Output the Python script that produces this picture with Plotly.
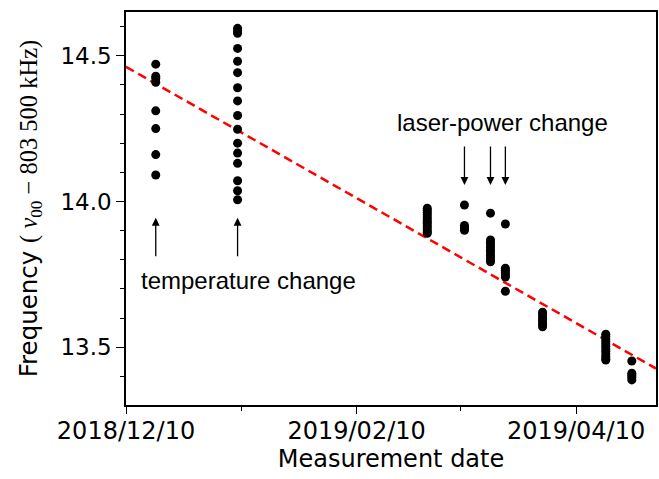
import plotly.graph_objects as go

# ---- data ----
session_dates = ["2018-12-18", "2019-01-09", "2019-03-01", "2019-03-11", "2019-03-18",
                 "2019-03-22", "2019-04-01", "2019-04-18", "2019-04-25"]

freq_1218 = [14.471, 14.430, 14.423, 14.409, 14.311, 14.250, 14.161, 14.091]
freq_0109 = [14.594, 14.586, 14.577, 14.525, 14.481, 14.442, 14.390, 14.345, 14.295,
             14.248, 14.200, 14.166, 14.131, 14.071, 14.037, 14.006]
freq_0301 = [13.977, 13.970, 13.962, 13.955, 13.947, 13.940, 13.932, 13.925, 13.917,
             13.910, 13.902, 13.895, 13.891]
freq_0311 = [13.988, 13.918, 13.912, 13.906, 13.901]
freq_0318 = [13.960, 13.868, 13.860, 13.851, 13.842, 13.833, 13.824, 13.815, 13.806,
             13.798, 13.793]
freq_0322 = [13.923, 13.771, 13.764, 13.756, 13.748, 13.741, 13.692]
freq_0401 = [13.620, 13.612, 13.603, 13.595, 13.587, 13.579, 13.570]
freq_0418 = [13.545, 13.537, 13.528, 13.520, 13.511, 13.503, 13.494, 13.486, 13.477,
             13.468, 13.460, 13.456]
freq_0425 = [13.453, 13.411, 13.404, 13.397, 13.388]

session_values = [freq_1218, freq_0109, freq_0301, freq_0311, freq_0318,
                  freq_0322, freq_0401, freq_0418, freq_0425]

fit_dates = ["2018-12-10", "2019-05-01 12:00"]
fit_values = [14.462, 13.427]

x_range = ["2018-12-10", "2019-05-01 12:00"]
y_range = [13.302, 14.65]

temperature_dates = ["2018-12-18", "2019-01-09"]
laser_dates = ["2019-03-11", "2019-03-18", "2019-03-22"]

# ---- build ----
xs, ys = [], []
for d, vals in zip(session_dates, session_values):
    xs.extend([d] * len(vals))
    ys.extend(vals)

fig = go.Figure()
fig.add_trace(go.Scatter(
    x=fit_dates, y=fit_values, mode="lines",
    line=dict(color="#ff0000", width=2.5, dash="9px,5px"),
    hoverinfo="skip", showlegend=False))
fig.add_trace(go.Scatter(
    x=xs, y=ys, mode="markers",
    marker=dict(color="black", size=9, line=dict(width=0)),
    showlegend=False))

annotations = []
for d in temperature_dates:
    annotations.append(dict(x=d, y=13.944, ax=d, ay=13.807, xref="x", yref="y",
                            axref="x", ayref="y", text="", showarrow=True,
                            arrowhead=2, arrowsize=1.2, arrowwidth=1.3,
                            arrowcolor="black"))
for d in laser_dates:
    annotations.append(dict(x=d, y=14.057, ax=d, ay=14.194, xref="x", yref="y",
                            axref="x", ayref="y", text="", showarrow=True,
                            arrowhead=2, arrowsize=1.2, arrowwidth=1.3,
                            arrowcolor="black"))
annotations.append(dict(x=0.231, y=0.318, xref="paper", yref="paper",
                        xanchor="center", yanchor="middle",
                        text="temperature change", showarrow=False,
                        font=dict(family="Liberation Sans, Arial", size=24, color="black")))
annotations.append(dict(x=0.710, y=0.720, xref="paper", yref="paper",
                        xanchor="center", yanchor="middle",
                        text="laser-power change", showarrow=False,
                        font=dict(family="Liberation Sans, Arial", size=24, color="black")))

ytitle = ('Frequency <span style="font-family:\'Liberation Serif\', \'Times New Roman\', serif">'
          '( <i>ν</i><sub>00</sub> − 803 500 kHz)</span>' + '\u00a0' * 5)

fig.update_layout(
    width=659, height=479,
    margin=dict(l=126, r=3, t=12, b=74),
    paper_bgcolor="white", plot_bgcolor="white",
    font=dict(family="DejaVu Sans", size=22, color="black"),
    annotations=annotations,
    xaxis=dict(
        type="date", range=x_range,
        tick0="2018-12-10", dtick="M2", tickformat="%Y/%m/%d",
        ticks="outside", ticklen=7, tickwidth=1.2, tickcolor="black",
        minor=dict(dtick="M1", tick0="2018-12-10", ticks="outside", ticklen=4,
                   tickwidth=1.2, tickcolor="black", showgrid=False),
        showline=True, linecolor="black", linewidth=1.5, mirror=True,
        showgrid=False, zeroline=False,
        tickfont=dict(size=24), ticklabelstandoff=-4,
        title=dict(text="Measurement date", font=dict(size=24), standoff=4),
        automargin=False,
    ),
    yaxis=dict(
        range=y_range, tick0=13.5, dtick=0.5, tickformat=".1f",
        ticks="outside", ticklen=8, tickwidth=1.2, tickcolor="black",
        minor=dict(dtick=0.1, ticks="outside", ticklen=4, tickwidth=1.2,
                   tickcolor="black", showgrid=False),
        showline=True, linecolor="black", linewidth=1.5, mirror=True,
        showgrid=False, zeroline=False,
        tickfont=dict(size=23),
        title=dict(text=ytitle, font=dict(size=24.5), standoff=16),
        automargin=False,
    ),
)

fig.write_html("out.html", config={"displayModeBar": False},
               post_script="document.body.style.margin='0';")
